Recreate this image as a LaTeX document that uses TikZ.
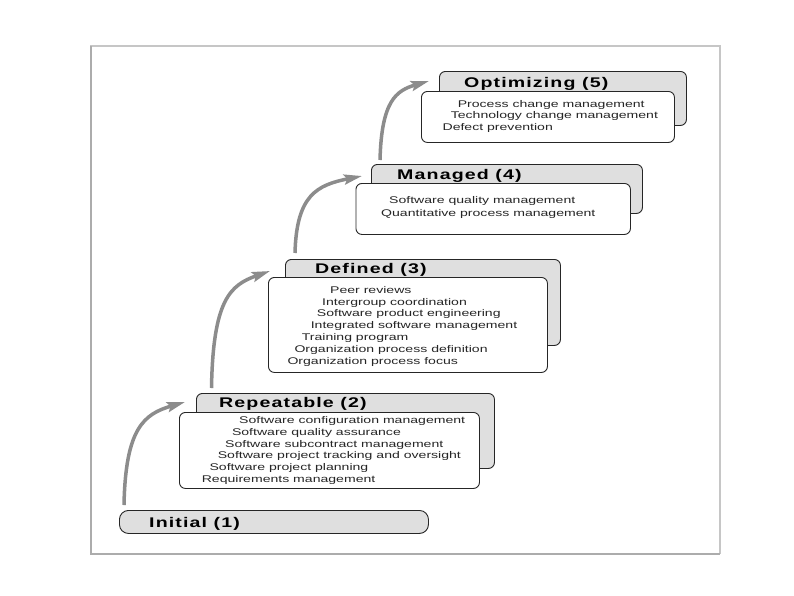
\documentclass[tikz,border=0pt]{standalone}
\usepackage{fontspec}
\setmainfont{Liberation Sans}
\newfontfamily\itemfont[FakeStretch=1.45]{Liberation Sans}
\newfontfamily\headfont[FakeStretch=1.4,LetterSpace=8]{Liberation Sans Bold}
\usetikzlibrary{arrows.meta,calc}

\begin{document}
\begin{tikzpicture}[x=1pt,y=-1pt,
  backbox/.style={draw=black!85, line width=0.9pt, fill=gray!25, rounded corners=6pt, anchor=north west, inner sep=0pt},
  frontbox/.style={draw=black!85, line width=0.9pt, fill=white, rounded corners=6pt, anchor=north west, inner sep=0pt},
  head/.style={anchor=base west, inner sep=0pt, font=\headfont\fontsize{14}{14}\selectfont},
  item/.style={anchor=base west, inner sep=0pt, text=black!85, font=\itemfont\fontsize{9.7}{10}\selectfont},
  climb/.style={line width=3.5pt, gray!90, -{Stealth[length=18pt,width=10pt,inset=3pt]}}]
\useasboundingbox (0,0) rectangle (794,595);
\fill[white] (0,0) rectangle (794,595);
% outer frame
\draw[gray!45, line width=1.5pt] (91,554) -- (91,46) -- (720,46) -- (720,554);
\draw[gray!65, line width=2pt] (91,46) -- (91,554) -- (720,554);

% level 1
\node[backbox, minimum width=309pt, minimum height=23pt, rounded corners=9pt] (ini) at (119,510) {};
\node[head] (ini-t) at (149,527) {Initial (1)};

% level 2
\node[backbox, minimum width=298pt, minimum height=75pt] (rep-b) at (196,393) {};
\node[frontbox, minimum width=300pt, minimum height=76pt] (rep-f) at (179,412) {};
\node[head] (rep-t) at (219,407) {Repeatable (2)};
\node[item] (rep-1) at (239,423.5) {Software configuration management};
\node[item] (rep-2) at (231.8,435.2) {Software quality assurance};
\node[item] (rep-3) at (225,447.2) {Software subcontract management};
\node[item] (rep-4) at (217.6,458.5) {Software project tracking and oversight};
\node[item] (rep-5) at (209.4,470.5) {Software project planning};
\node[item] (rep-6) at (201.6,482.8) {Requirements management};

% level 3
\node[backbox, minimum width=275pt, minimum height=86pt] (def-b) at (285,259) {};
\node[frontbox, minimum width=279pt, minimum height=95pt] (def-f) at (268,277) {};
\node[head] (def-t) at (315,273) {Defined (3)};
\node[item] (def-1) at (330,293.5) {Peer reviews};
\node[item] (def-2) at (322,305.5) {Intergroup coordination};
\node[item] (def-3) at (316.7,316.8) {Software product engineering};
\node[item] (def-4) at (310.6,328.5) {Integrated software management};
\node[item] (def-5) at (301.6,340.2) {Training program};
\node[item] (def-6) at (294.3,352.8) {Organization process definition};
\node[item] (def-7) at (287.3,364.2) {Organization process focus};

% level 4
\node[backbox, minimum width=271pt, minimum height=49pt] (man-b) at (371,164) {};
\node[frontbox, minimum width=274.5pt, minimum height=51pt] (man-f) at (355.5,183) {};
\node[head] (man-t) at (397,179.3) {Managed (4)};
\node[item] (man-1) at (389,203.5) {Software quality management};
\node[item] (man-2) at (381,216.8) {Quantitative process management};

% level 5
\node[backbox, minimum width=247pt, minimum height=54pt] (opt-b) at (439,71) {};
\node[frontbox, minimum width=253pt, minimum height=51pt] (opt-f) at (421,91) {};
\node[head] (opt-t) at (464,87) {Optimizing (5)};
\node[item] (opt-1) at (457.6,107.5) {Process change management};
\node[item] (opt-2) at (450.6,118.5) {Technology change management};
\node[item] (opt-3) at (442.4,130.2) {Defect prevention};

% climbing arrows
\coordinate (up1a) at ($(ini.north west)+(5,-5)$);
\coordinate (up1b) at ($(rep-b.north west)+(-11,9)$);
\coordinate (up2a) at ($(rep-b.north west)+(15.5,-5)$);
\coordinate (up2b) at ($(def-b.north west)+(-15,12)$);
\coordinate (up3a) at ($(def-b.north west)+(10,-6)$);
\coordinate (up3b) at ($(man-b.north west)+(-9,12)$);
\coordinate (up4a) at ($(man-b.north west)+(9,-4)$);
\coordinate (up4b) at ($(opt-b.north west)+(-10,10)$);
\draw[climb] (up1a) .. controls +(1.5,-77) and +(-41,12) .. (up1b);
\draw[climb] (up2a) .. controls +(1.5,-88) and +(-40,14) .. (up2b);
\draw[climb] (up3a) .. controls +(1.5,-58) and +(-45,9) .. (up3b);
\draw[climb] (up4a) .. controls +(1.5,-59) and +(-33,9.5) .. (up4b);
\end{tikzpicture}
\end{document}
